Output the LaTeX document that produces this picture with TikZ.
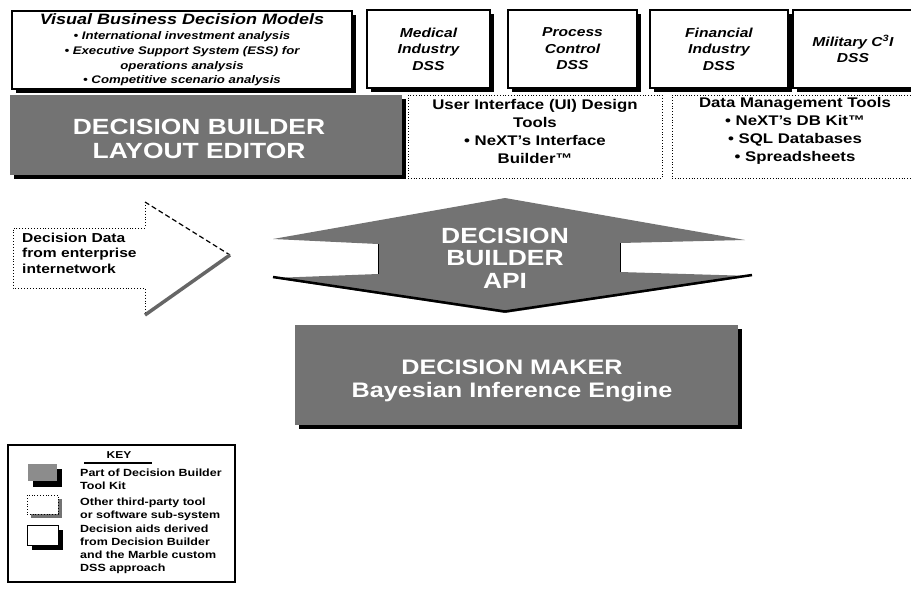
\documentclass[tikz,border=0pt]{standalone}
\usepackage{fontspec}
\setmainfont{Liberation Sans}[FakeStretch=1.2]
\usetikzlibrary{shadows}
\tikzset{
  dssbox/.style={draw=black, line width=1.2pt, fill=white, inner sep=0pt,
     drop shadow={shadow xshift=3.5pt, shadow yshift=-3.5pt, fill=black, opacity=1},
     font=\bfseries\itshape\fontsize{13}{16.5}\selectfont, align=center},
  toolbox/.style={draw=black, line width=0.8pt, dotted, fill=white, inner sep=0pt},
  tooltext/.style={align=center, font=\bfseries\fontsize{14}{18}\selectfont, inner sep=0pt},
  kitbox/.style={fill=black!55, inner sep=0pt,
     drop shadow={shadow xshift=4pt, shadow yshift=-4pt, fill=black, opacity=1}},
  kittext/.style={text=white, font=\bfseries\fontsize{22}{23.5}\selectfont, align=center, inner sep=0pt},
  keytext/.style={anchor=west, align=left, font=\bfseries\fontsize{10.4}{13.2}\selectfont, inner sep=0pt},
  plaintext/.style={inner sep=0pt},
}
\begin{document}
\begin{tikzpicture}[x=1pt,y=-1pt]
\useasboundingbox (0,0) rectangle (911,590);
% ---------- top row ----------
\node[dssbox, minimum width=340pt, minimum height=78pt, font=\bfseries\itshape\fontsize{11}{14.8}\selectfont] (vbm) at (182,50)
  {{\fontsize{15}{14.8}\selectfont Visual Business Decision Models}\\
   • International investment analysis\\
   • Executive Support System (ESS) for\\
   operations analysis\\
   • Competitive scenario analysis};
\node[dssbox, minimum width=123pt, minimum height=78pt] (med) at (428.5,49) {Medical\\Industry\\DSS};
\node[dssbox, minimum width=129pt, minimum height=78pt] (proc) at (572.5,49) {Process\\Control\\DSS};
\node[dssbox, minimum width=138pt, minimum height=78pt] (fin) at (719,49) {Financial\\Industry\\DSS};
\node[dssbox, minimum width=120pt, minimum height=78pt] (mil) at (853,49) {Military C\textsuperscript{3}I\\DSS};
% ---------- second row ----------
\node[kitbox, minimum width=392pt, minimum height=80pt] (le) at (206,135) {};
\node[kittext] (letext) at (199,139) {DECISION BUILDER\\LAYOUT EDITOR};
\node[toolbox, minimum width=254pt, minimum height=83pt] (ui) at (535,136.5) {};
\node[tooltext] (uitext) at (535,131) {User Interface (UI) Design\\Tools\\• NeXT's Interface\\Builder™};
\node[toolbox, minimum width=250pt, minimum height=83pt] (dmt) at (797,136.5) {};
\node[tooltext] (dmttext) at (795,131) {Data Management Tools\\• NeXT's DB Kit™\\• SQL Databases\\• Spreadsheets};
% ---------- input arrow ----------
\coordinate (a1) at (13,228);
\coordinate (a2) at (145,228);
\coordinate (a3) at (145,202);
\coordinate (a4) at (230,255);
\coordinate (a5) at (145,315);
\coordinate (a6) at (145,288);
\coordinate (a7) at (13,288);
\fill[white] (a1) -- (a2) -- (a3) -- (a4) -- (a5) -- (a6) -- (a7) -- cycle;
\draw[dotted, line width=0.9pt] (a3) -- (a2) -- (a1) -- (a7) -- (a6) -- (a5);
\draw[line width=1.2pt, dash pattern=on 5pt off 3pt] (a3) -- (a4);
\draw[line width=3.5pt, black!60] (a4) -- (a5);
\node[anchor=west, align=left, inner sep=0pt, font=\bfseries\fontsize{13}{15.5}\selectfont] (ddata) at (22,253)
  {Decision Data\\from enterprise\\internetwork};
% ---------- API shape ----------
\coordinate (p1) at (273,239);
\coordinate (p2) at (505,198);
\coordinate (p3) at (745,240);
\coordinate (p4) at (620,243);
\coordinate (p5) at (620,272);
\coordinate (p6) at (752,276);
\coordinate (p7) at (505,313);
\coordinate (p8) at (273,278);
\coordinate (p9) at (378,274);
\coordinate (p10) at (378,244);
\fill[black!55] (p1) -- (p2) -- (p3) -- (p4) -- (p5) -- (p6) -- (p7) -- (p8) -- (p9) -- (p10) -- cycle;
\draw[line width=1pt] (p10) -- (p9) (p4) -- (p5);
\draw[line width=2.5pt, line join=round] ([yshift=1pt]p8) -- ([yshift=1.5pt]p7) -- ([yshift=1pt]p6);
\node[kittext, font=\bfseries\fontsize{22}{22.5}\selectfont] (api) at (505,258)
  {DECISION\\BUILDER\\API};
% ---------- decision maker ----------
\node[kitbox, minimum width=443pt, minimum height=100pt] (dm) at (516,375) {};
\node[kittext, font=\bfseries\fontsize{21}{23}\selectfont] (dmtext) at (512,381)
  {DECISION MAKER\\Bayesian Inference Engine};
% ---------- key ----------
\node[draw=black, line width=1.1pt, fill=white, minimum width=227pt, minimum height=137pt, inner sep=0pt] (key) at (121.5,513.5) {};
\node[plaintext, font=\bfseries\fontsize{10}{12}\selectfont] (keytitle) at (119,455) {KEY};
\coordinate (ku1) at (84,463);
\coordinate (ku2) at (152,463);
\draw[line width=1.2pt] (ku1) -- (ku2);
% icon 1
\fill[black] (33,469) rectangle (62,487);
\node[fill=black!45, minimum width=29pt, minimum height=17pt, inner sep=0pt] (k1) at (42.5,472.5) {};
% icon 2
\fill[black!55] (31,499) rectangle (62,518);
\node[fill=white, draw=black, dotted, line width=0.8pt, minimum width=31pt, minimum height=19pt, inner sep=0pt] (k2) at (42.5,504.5) {};
% icon 3
\fill[black] (32,530) rectangle (63,550);
\node[fill=white, draw=black, line width=1pt, minimum width=31pt, minimum height=20pt, inner sep=0pt] (k3) at (42.5,535) {};
\node[keytext] (kt1) at (80,479.5) {Part of Decision Builder\\Tool Kit};
\node[keytext] (kt2) at (80,509.5) {Other third-party tool\\or software sub-system};
\node[keytext] (kt3) at (80,549.5) {Decision aids derived\\from Decision Builder\\and the Marble custom\\DSS approach};
\end{tikzpicture}
\end{document}
